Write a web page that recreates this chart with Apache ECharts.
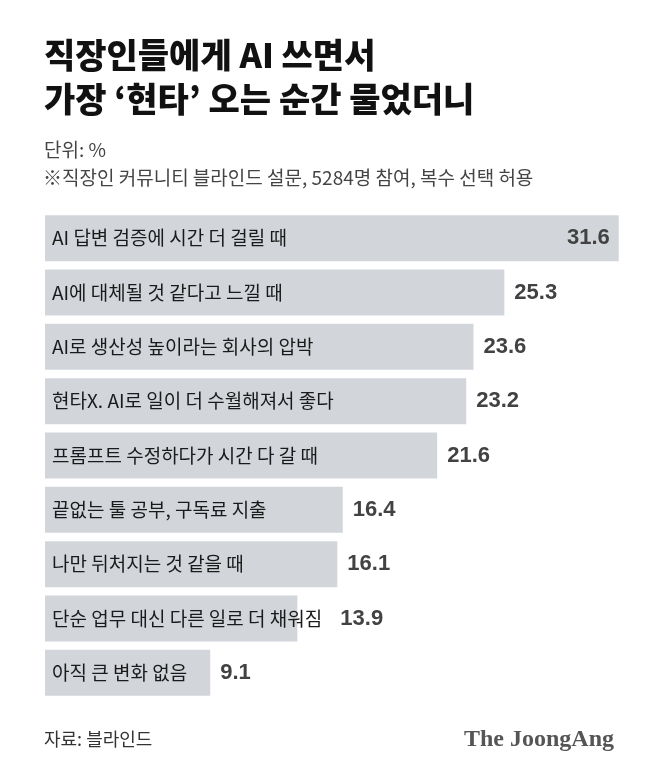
<!DOCTYPE html>
<html><head><meta charset="utf-8">
<script src="https://cdn.jsdelivr.net/npm/echarts@6/dist/echarts.min.js"></script>
<style>html,body{margin:0;padding:0;background:#fff}#c{width:658px;height:781px}</style>
</head><body><div id="c"></div>
<script>
const categories = [
  'AI 답변 검증에 시간 더 걸릴 때',
  'AI에 대체될 것 같다고 느낄 때',
  'AI로 생산성 높이라는 회사의 압박',
  '현타X. AI로 일이 더 수월해져서 좋다',
  '프롬프트 수정하다가 시간 다 갈 때',
  '끝없는 툴 공부, 구독료 지출',
  '나만 뒤처지는 것 같을 때',
  '단순 업무 대신 다른 일로 더 채워짐',
  '아직 큰 변화 없음'
];
const values = [31.6, 25.3, 23.6, 23.2, 21.6, 16.4, 16.1, 13.9, 9.1];

const KR = '"Noto Sans CJK KR", "Noto Sans", sans-serif';
const NUM = '"Liberation Sans Narrow", "Liberation Sans", Arial, sans-serif';

const valueData = values.map((v, i) => {
  const d = { value: v };
  if (i === 0) d.label = { position: 'insideRight', distance: 9 };
  if (i === 7) d.label = { distance: 43 };
  return d;
});

const chart = echarts.init(document.getElementById('c'), null, { renderer: 'canvas' });
chart.setOption({
  backgroundColor: '#ffffff',
  animation: false,
  title: [
    { text: '직장인들에게 AI 쓰면서\n가장 ‘현타’ 오는 순간 물었더니', left: 39, top: 28,
      textStyle: { fontFamily: KR, fontSize: 34, fontWeight: 900, color: '#111', lineHeight: 44 } },
    { text: '단위: %', left: 39, top: 135,
      textStyle: { fontFamily: KR, fontSize: 19, fontWeight: 'normal', color: '#444' } },
    { text: '※직장인 커뮤니티 블라인드 설문, 5284명 참여, 복수 선택 허용', left: 38, top: 163,
      textStyle: { fontFamily: KR, fontSize: 19, fontWeight: 'normal', color: '#444' } },
    { text: '자료: 블라인드', left: 39, top: 725,
      textStyle: { fontFamily: KR, fontSize: 18, fontWeight: 'normal', color: '#333' } },
    { text: 'The JoongAng', left: 459, top: 723,
      textStyle: { fontFamily: '"Liberation Serif", "DejaVu Serif", serif', fontSize: 24, fontWeight: 'bold', color: '#555' } }
  ],
  grid: { left: 45, width: 581, top: 211, bottom: 81, containLabel: false },
  xAxis: { type: 'value', min: 0, max: 32, show: false },
  yAxis: { type: 'category', data: categories, inverse: true, show: false },
  series: [
    {
      type: 'bar', data: values, barWidth: 46,
      itemStyle: { color: '#d2d6db' },
      label: { show: true, position: 'insideLeft', distance: 7, formatter: '{b}',
        fontFamily: KR, fontSize: 19, color: '#1a1a1a' },
      z: 2
    },
    {
      type: 'bar', data: valueData, barWidth: 46, barGap: '-100%',
      itemStyle: { color: 'rgba(0,0,0,0)' },
      label: { show: true, position: 'right', distance: 10,
        fontFamily: NUM, fontSize: 22, fontWeight: 'bold', color: '#424242',
        formatter: p => p.value.toFixed(1) },
      z: 3
    }
  ]
});
</script></body></html>
